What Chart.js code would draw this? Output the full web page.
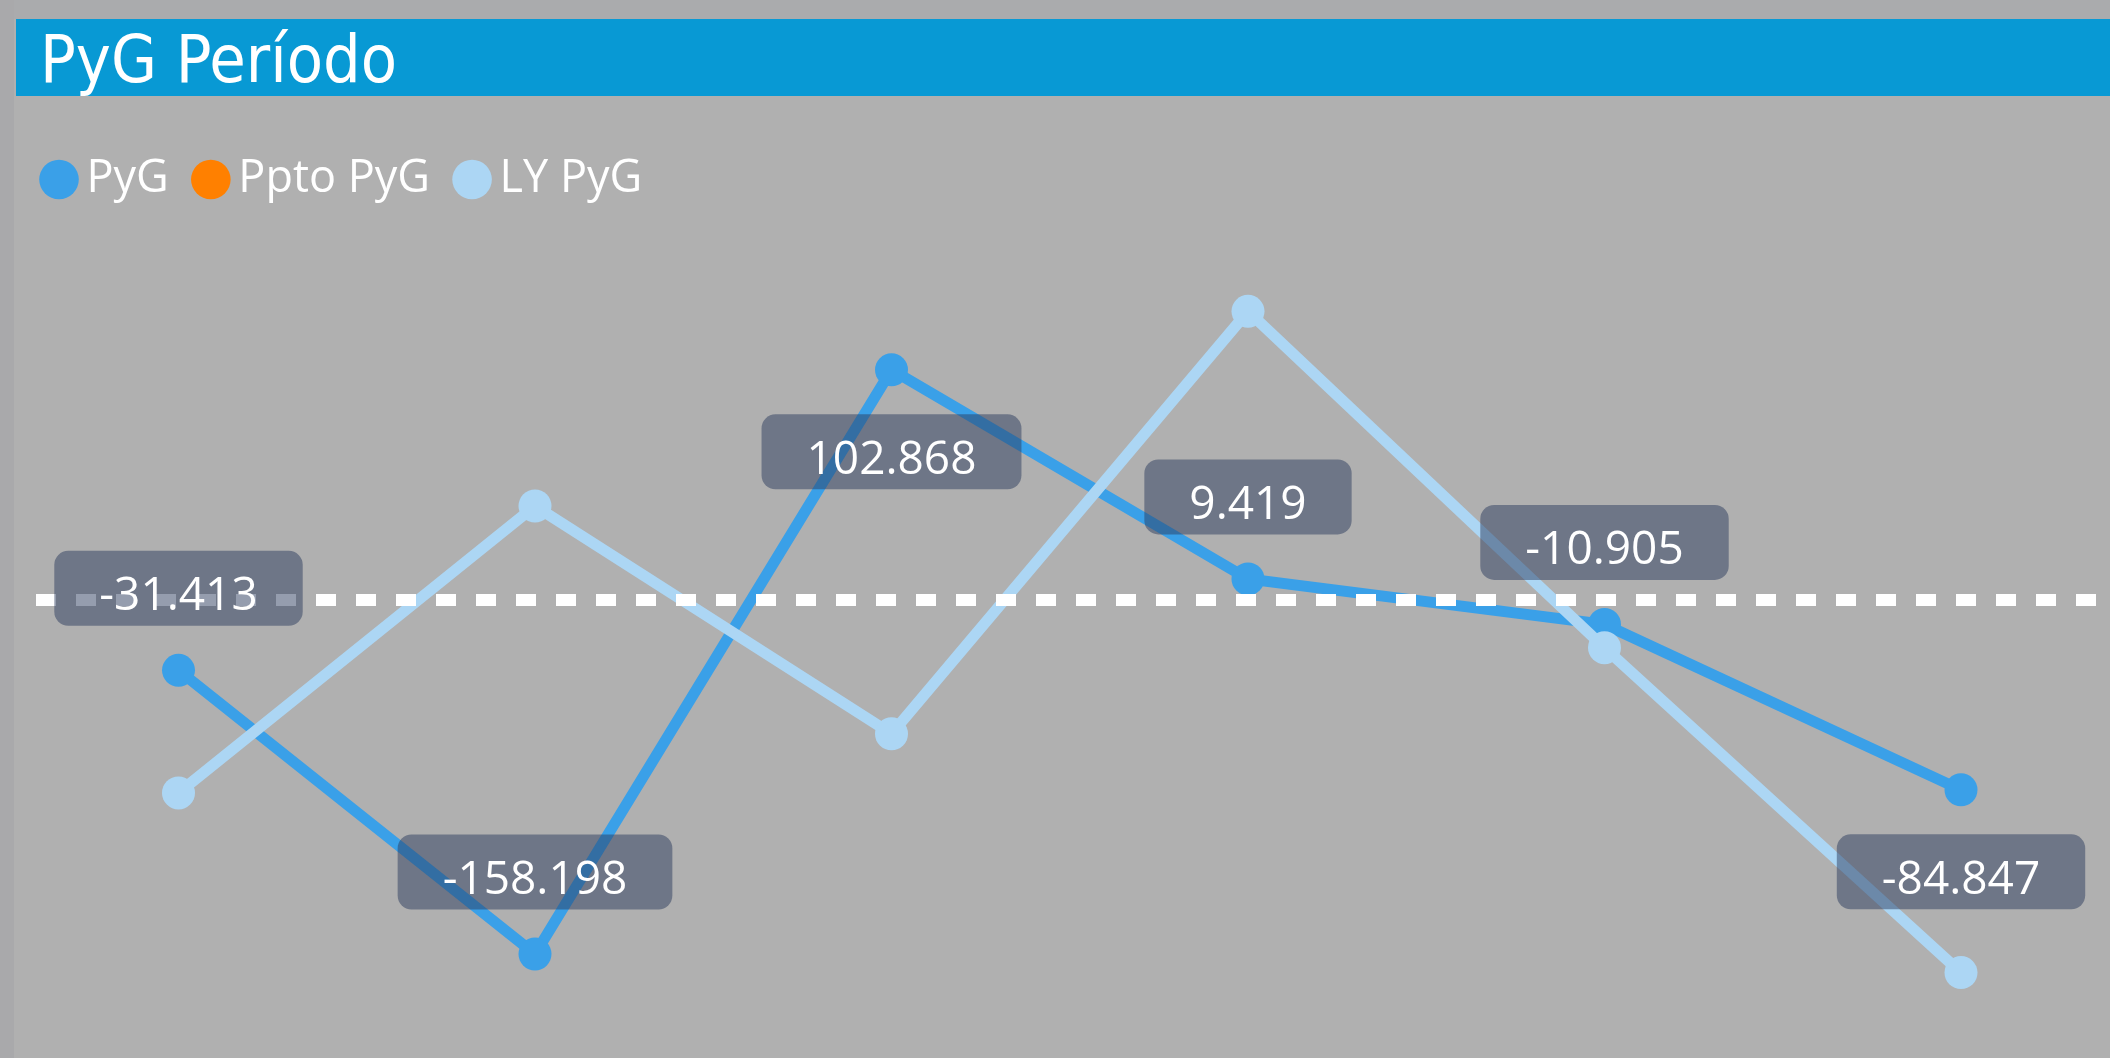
<!DOCTYPE html>
<html><head><meta charset="utf-8">
<script src="https://cdn.jsdelivr.net/npm/chart.js@4.4.1/dist/chart.umd.min.js"></script>
<style>
html,body{margin:0;padding:0;width:2110px;height:1058px;overflow:hidden;background:#b0b0b0;}
#stripTop{position:absolute;left:0;top:0;width:2110px;height:19px;background:#aaabad;}
#stripLeft{position:absolute;left:0;top:0;width:14px;height:1058px;background:#a9a9ab;}
#titlebar{position:absolute;left:16px;top:19px;right:0;height:77px;background:#0899d4;z-index:2;}
#titlebar span{position:absolute;left:24px;top:8px;font-family:"DejaVu Sans Condensed","DejaVu Sans",sans-serif;font-size:66px;line-height:66px;color:#fff;white-space:nowrap;}
#c{position:absolute;left:0;top:0;z-index:1;}
</style></head>
<body>
<div id="stripTop"></div><div id="stripLeft"></div>
<div id="titlebar"><span>PyG Período</span></div>
<canvas id="c" width="2110" height="1058"></canvas>
<script>
const categories = ['P1','P2','P3','P4','P5','P6'];
const pygValues  = [-31413, -158198, 102868, 9419, -10905, -84847];
const pptoValues = [null, null, null, null, null, null];
const lyValues   = [-86200, 42000, -59800, 129000, -21300, -166500];
const labelBelow = [false, false, true, false, false, true];
const seriesNames = ['PyG', 'Ppto PyG', 'LY PyG'];
const seriesColors = ['#3aa0e8', '#ff8000', '#acd6f4'];

function fmt(v){
  const s = Math.abs(v).toString().replace(/\B(?=(\d{3})+(?!\d))/g, '.');
  return (v < 0 ? '-' : '') + s;
}

const zeroLine = {
  id: 'zeroLine',
  afterDatasetsDraw(chart){
    const y = chart.scales.y.getPixelForValue(0);
    const ctx = chart.ctx;
    ctx.save();
    ctx.strokeStyle = '#ffffff';
    ctx.lineWidth = 12;
    ctx.setLineDash([20, 20]);
    ctx.beginPath();
    ctx.moveTo(36, y);
    ctx.lineTo(chart.width, y);
    ctx.stroke();
    ctx.restore();
  }
};

const valueLabels = {
  id: 'valueLabels',
  afterDatasetsDraw(chart){
    const ctx = chart.ctx;
    const meta = chart.getDatasetMeta(0);
    ctx.save();
    ctx.font = '46px "Open Sans"';
    ctx.textAlign = 'center';
    ctx.textBaseline = 'alphabetic';
    meta.data.forEach((pt, i) => {
      const v = pygValues[i];
      if (v === null) return;
      const text = fmt(v);
      const w = ctx.measureText(text).width + 90;
      const h = 75;
      const cy = pt.y + (labelBelow[i] ? 82 : -82);
      ctx.fillStyle = 'rgba(44,60,94,0.5)';
      ctx.beginPath();
      ctx.roundRect(pt.x - w/2, cy - h/2, w, h, 14);
      ctx.fill();
      ctx.fillStyle = '#ffffff';
      ctx.fillText(text, pt.x, cy + 22);
    });
    ctx.restore();
  }
};

function ds(label, data, color){
  return {
    label, data,
    borderColor: color, backgroundColor: color,
    pointBackgroundColor: color, pointBorderColor: color,
    borderWidth: 11, pointRadius: 16.5, pointBorderWidth: 0, pointHoverRadius: 16.5,
    tension: 0, clip: false
  };
}

new Chart(document.getElementById('c'), {
  type: 'line',
  data: {
    labels: categories,
    datasets: [
      {...ds(seriesNames[0], pygValues, seriesColors[0]), order: 2},
      {...ds(seriesNames[1], pptoValues, seriesColors[1]), order: 1},
      {...ds(seriesNames[2], lyValues, seriesColors[2]), order: 0}
    ]
  },
  options: {
    responsive: false,
    animation: false,
    devicePixelRatio: 1,
    layout: { padding: { left: 17, top: 120, right: 0, bottom: 3 } },
    plugins: {
      legend: {
        position: 'top', align: 'start',
        labels: {
          usePointStyle: true, pointStyle: 'circle',
          boxWidth: 10, boxHeight: 28, padding: 37,
          color: '#ffffff',
          font: { family: '"Open Sans"', size: 45 },
          sort: (a, b) => a.datasetIndex - b.datasetIndex
        }
      },
      tooltip: { enabled: false },
      title: { display: false }
    },
    scales: {
      x: { type: 'category', offset: false, display: false },
      y: {
        min: -197300, max: 173400, position: 'left',
        ticks: { display: false }, grid: { display: false }, border: { display: false },
        afterFit: s => { s.width = 161.5; }
      },
      yR: {
        position: 'right', min: 0, max: 1,
        ticks: { display: false }, grid: { display: false }, border: { display: false },
        afterFit: s => { s.width = 149; }
      }
    }
  },
  plugins: [zeroLine, valueLabels]
});
</script>
</body></html>
